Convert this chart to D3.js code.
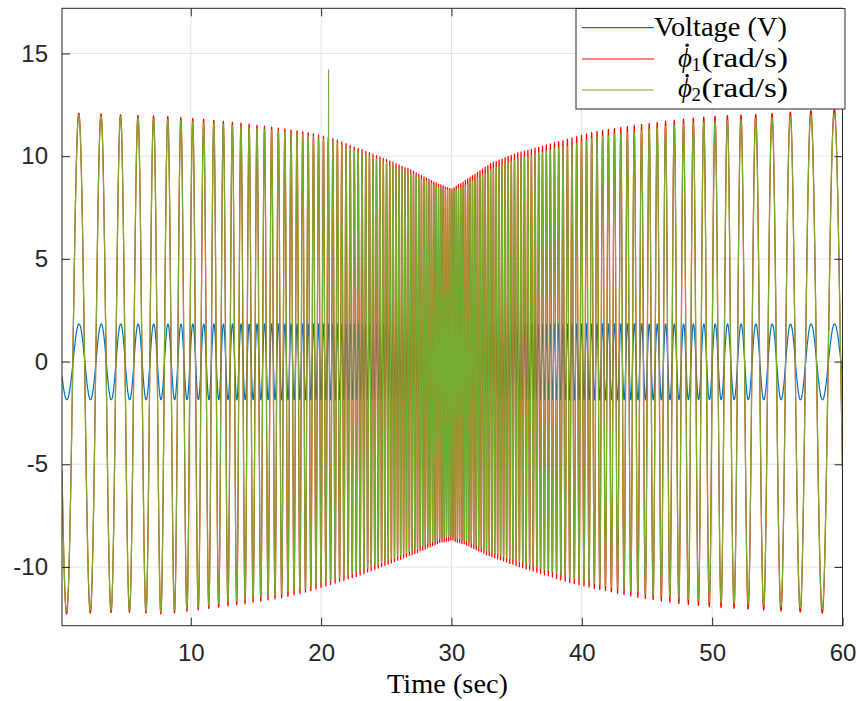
<!DOCTYPE html>
<html>
<head>
<meta charset="utf-8">
<style>
  body { margin: 0; background: #fff; }
  svg { display: block; }
</style>
</head>
<body>
<svg width="857" height="701"></svg>
<script src="https://cdn.jsdelivr.net/npm/d3@7"></script>
<script>

// ---- values ----
var xTicks = [10, 20, 30, 40, 50, 60];
var yTicks = [-10, -5, 0, 5, 10, 15];
var xRange = [0.12, 60];
var yRange = [-12.86, 17.2];

// sweep frequency (Hz) read from peak spacing at these times (s)
var freqT  = [0, 2.2, 5.2, 8.6, 12, 15.3, 18, 22, 26, 30, 34, 38, 42, 44.7, 48, 51.4, 54.8, 57.8, 60];
var freqHz = [0.5, 0.58, 0.74, 0.98, 1.35, 1.72, 2.2, 3.1, 4.3, 6.06, 4.3, 3.1, 2.2, 1.72, 1.35, 0.98, 0.74, 0.58, 0.5];

// voltage swing (V)
var voltTop = 1.83, voltBot = -1.86;

// peak envelopes of the two rates (rad/s), read at envT
var envT    = [0, 2, 5, 8, 11, 14, 17, 19, 21, 23, 25, 27, 29, 30, 31, 33, 35, 37, 39, 41, 44, 47, 50, 54, 57, 60];
var phi2Top = [12.0, 12.0, 11.9, 11.8, 11.65, 11.45, 11.2, 11.0, 10.7, 10.2, 9.7, 9.15, 8.5, 8.3, 8.55, 9.35, 9.85, 10.2, 10.5, 10.9, 11.2, 11.5, 11.7, 11.85, 12.0, 12.1];
var phi2Bot = [-12.2, -12.1, -12.1, -12.2, -11.9, -11.6, -11.3, -11.0, -10.6, -10.2, -9.7, -9.2, -8.65, -8.5, -8.7, -9.3, -9.7, -10.1, -10.5, -10.8, -11.2, -11.5, -11.7, -11.9, -12.0, -12.1];
var phi1Top = [12.1, 12.1, 12.0, 11.95, 11.8, 11.6, 11.35, 11.15, 10.85, 10.35, 9.85, 9.3, 8.65, 8.4, 8.8, 9.65, 10.15, 10.5, 10.85, 11.2, 11.5, 11.75, 11.95, 12.05, 12.2, 12.3];
var phi1Bot = [-12.3, -12.25, -12.2, -12.3, -12.05, -11.8, -11.5, -11.2, -10.8, -10.4, -9.9, -9.4, -8.85, -8.7, -8.9, -9.5, -9.95, -10.35, -10.75, -11.05, -11.45, -11.75, -11.95, -12.1, -12.2, -12.3];

// single glitch in phi2
var spikeT = [20.57];
var spikeV = [14.2];

var colors = ["#0072BD", "#FF0000", "#77AC30"];

// ---- layout ----
var pL = 62, pR = 842.5, pT = 8.3, pB = 625.7;

var svg = d3.select("svg");
svg.append("rect").attr("width", 857).attr("height", 701).attr("fill", "#fff");

var x = d3.scaleLinear().domain(xRange).range([pL, pR]);
var y = d3.scaleLinear().domain(yRange).range([pB, pT]);

// grid
svg.append("g")
  .selectAll("line").data(xTicks).enter().append("line")
  .attr("x1", function(d) { return x(d); }).attr("x2", function(d) { return x(d); })
  .attr("y1", pT).attr("y2", pB)
  .attr("stroke", "#e3e3e3").attr("stroke-width", 1);
svg.append("g")
  .selectAll("line").data(yTicks).enter().append("line")
  .attr("y1", function(d) { return y(d); }).attr("y2", function(d) { return y(d); })
  .attr("x1", pL).attr("x2", pR)
  .attr("stroke", "#e3e3e3").attr("stroke-width", 1);

// ---- build the sampled sweep from the read values ----
var fAt = d3.scaleLinear().domain(freqT).range(freqHz);
var topV2 = d3.scaleLinear().domain(envT).range(phi2Top);
var botV2 = d3.scaleLinear().domain(envT).range(phi2Bot);
var topV1 = d3.scaleLinear().domain(envT).range(phi1Top);
var botV1 = d3.scaleLinear().domain(envT).range(phi1Bot);

var dt = 0.005;
var volt = [], phi1 = [], phi2 = [];
var phase = 0, t = 0;
var lag = -0.01;
var spikeIdx = spikeT.map(function(s) { return Math.round((s - xRange[0]) / dt); });
var n = 0;
while (t <= xRange[1] + 1e-9) {
  if (t >= xRange[0] - 1e-9) {
    var s = -Math.sin(2 * Math.PI * phase);
    var s2 = -Math.sin(2 * Math.PI * (phase - lag));
    volt.push([t, (voltTop + voltBot) / 2 + s * (voltTop - voltBot) / 2]);
    var a1 = topV1(t), b1 = botV1(t), a2 = topV2(t), b2 = botV2(t);
    phi1.push([t, (a1 + b1) / 2 + s2 * (a1 - b1) / 2]);
    var v2 = (a2 + b2) / 2 + s2 * (a2 - b2) / 2;
    var k = spikeIdx.indexOf(n);
    if (k >= 0) v2 = spikeV[k];
    phi2.push([t, v2]);
    n++;
  }
  phase += 0.5 * (fAt(t) + fAt(t + dt)) * dt;
  t += dt;
}

svg.append("clipPath").attr("id", "clip")
  .append("rect").attr("x", pL).attr("y", pT).attr("width", pR - pL).attr("height", pB - pT);

var line = d3.line().x(function(d) { return x(d[0]); }).y(function(d) { return y(d[1]); });

var plot = svg.append("g").attr("clip-path", "url(#clip)");
[volt, phi1, phi2].forEach(function(series, i) {
  plot.append("path")
    .attr("d", line(series))
    .attr("fill", "none")
    .attr("stroke", colors[i])
    .attr("stroke-width", 1.2)
    .attr("stroke-linejoin", "round");
});

// ---- axes ----
var tickFont = "'Liberation Sans', Arial, Helvetica, sans-serif";
var ink = "#262626";

function styleAxis(g) {
  g.select(".domain").remove();
  g.selectAll(".tick line").attr("stroke", ink).attr("stroke-width", 1);
  g.selectAll(".tick text").attr("fill", ink).attr("font-family", tickFont).attr("font-size", 24);
}

svg.append("g").attr("transform", "translate(0," + pB + ")")
  .call(d3.axisBottom(x).tickValues(xTicks).tickSizeInner(-8).tickSizeOuter(0).tickPadding(18)
        .tickFormat(d3.format("d")))
  .call(styleAxis);
svg.append("g").attr("transform", "translate(0," + pT + ")")
  .call(d3.axisTop(x).tickValues(xTicks).tickSizeInner(-8).tickSizeOuter(0).tickFormat(""))
  .call(styleAxis);
svg.append("g").attr("transform", "translate(" + pL + ",0)")
  .call(d3.axisLeft(y).tickValues(yTicks).tickSizeInner(-8).tickSizeOuter(0).tickPadding(14)
        .tickFormat(function(d) { return String(d); }))
  .call(styleAxis);
svg.append("g").attr("transform", "translate(" + pR + ",0)")
  .call(d3.axisRight(y).tickValues(yTicks).tickSizeInner(-8).tickSizeOuter(0).tickFormat(""))
  .call(styleAxis);

svg.append("rect")
  .attr("x", pL).attr("y", pT).attr("width", pR - pL).attr("height", pB - pT)
  .attr("fill", "none").attr("stroke", ink).attr("stroke-width", 1);

// x label
var serif = "'Liberation Serif', 'Times New Roman', serif";
svg.append("text")
  .attr("x", 387).attr("y", 693)
  .attr("font-family", serif).attr("font-size", 27).attr("fill", "#000")
  .attr("textLength", 121).attr("lengthAdjust", "spacingAndGlyphs")
  .text("Time (sec)");

// ---- legend ----
var leg = svg.append("g");
leg.append("rect")
  .attr("x", 576).attr("y", 8.5).attr("width", 269).attr("height", 100.5)
  .attr("fill", "#fff").attr("stroke", ink).attr("stroke-width", 1);

var legY = [27.7, 59, 90];
var legBase = [35.7, 66.7, 97.3];
legY.forEach(function(ly, i) {
  leg.append("line")
    .attr("x1", 582).attr("x2", 654).attr("y1", ly).attr("y2", ly)
    .attr("stroke", colors[i]).attr("stroke-width", 1.2);
});

leg.append("text")
  .attr("x", 654).attr("y", legBase[0])
  .attr("font-family", serif).attr("font-size", 27).attr("fill", "#000")
  .attr("textLength", 133).attr("lengthAdjust", "spacingAndGlyphs")
  .text("Voltage (V)");

[1, 2].forEach(function(k) {
  var x0 = 678;
  var sym = leg.append("text")
    .attr("x", x0).attr("y", legBase[k])
    .attr("font-family", serif).attr("font-size", 27).attr("font-style", "italic").attr("fill", "#000")
    .text("\u03D5");
  var w = sym.node().getComputedTextLength();
  // the dot of the time derivative
  leg.append("circle")
    .attr("cx", x0 + w * 0.55 + 1.5).attr("cy", legBase[k] - 21.5).attr("r", 1.7)
    .attr("fill", "#000");
  var sub = leg.append("text")
    .attr("x", x0 + w - 0.5).attr("y", legBase[k] + 4)
    .attr("font-family", serif).attr("font-size", 19).attr("fill", "#000")
    .text(String(k));
  var sx = x0 + w - 0.5 + sub.node().getComputedTextLength() + 0.5;
  leg.append("text")
    .attr("x", sx).attr("y", legBase[k])
    .attr("font-family", serif).attr("font-size", 27).attr("fill", "#000")
    .attr("textLength", 788 - sx).attr("lengthAdjust", "spacingAndGlyphs")
    .text("(rad/s)");
});

</script>
</body>
</html>
